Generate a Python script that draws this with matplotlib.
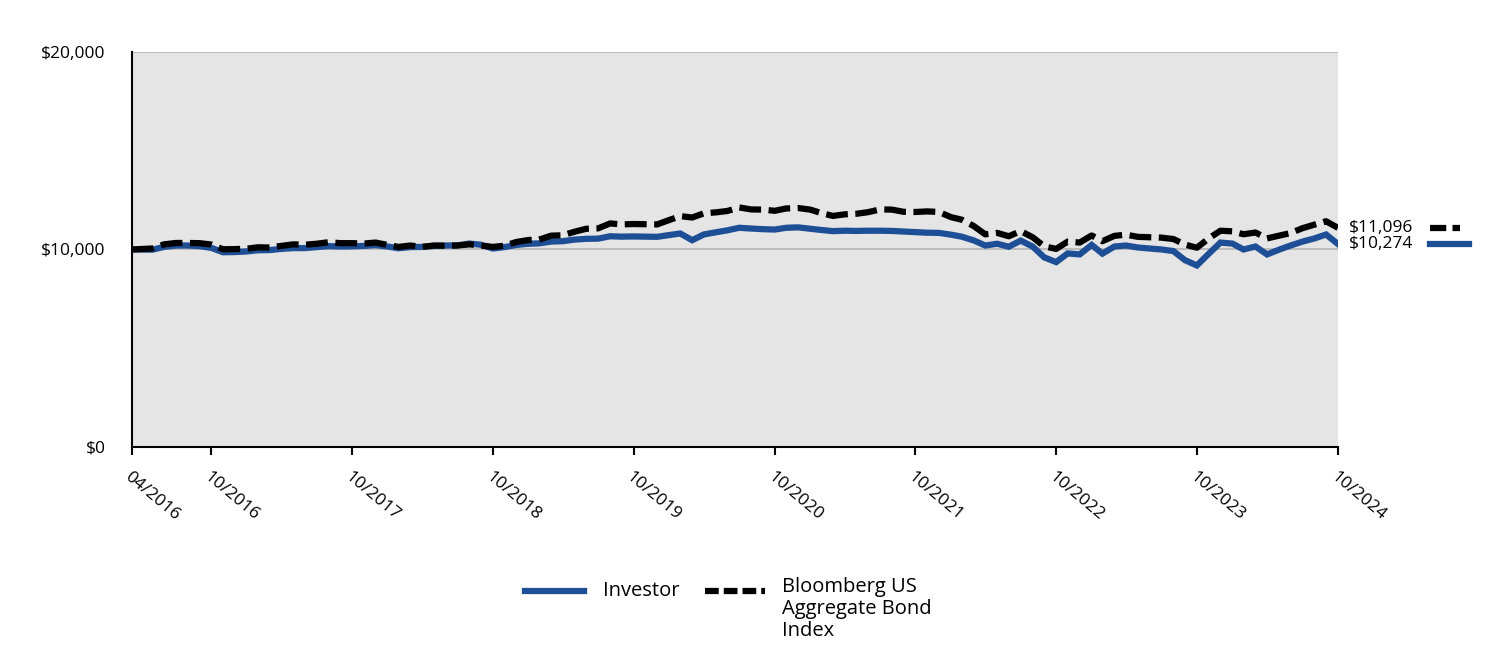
import pandas as pd
import matplotlib
matplotlib.use('Agg')
import matplotlib.pyplot as plt
from matplotlib.lines import Line2D
from matplotlib.ticker import FuncFormatter

plt.rcParams['font.family'] = ['Open Sans', 'DejaVu Sans']

# first point is the start date, then month ends
dates = pd.to_datetime(['2016-04-08']).append(pd.date_range('2016-05-31', '2024-10-31', freq='ME'))

investor = [10000,
            9990, 10130, 10200, 10200, 10170, 10080, 9860, 9870,
            9900, 9960, 9970, 10030, 10070, 10070, 10120, 10170, 10150, 10160, 10180, 10220,
            10150, 10060, 10120, 10130, 10180, 10200, 10210, 10300, 10240, 10050, 10120, 10230,
            10290, 10310, 10400, 10420, 10500, 10540, 10550, 10670, 10650, 10660, 10650, 10640,
            10730, 10810, 10470, 10760, 10870, 10970, 11100, 11060, 11030, 11010, 11100, 11120,
            11050, 10990, 10930, 10950, 10940, 10950, 10950, 10940, 10910, 10880, 10850, 10840,
            10750, 10650, 10460, 10200, 10290, 10140, 10450, 10150, 9600, 9360, 9800, 9750,
            10230, 9790, 10150, 10200, 10100, 10050, 10000, 9920, 9460, 9190, 9770, 10350,
            10300, 10000, 10150, 9750, 9990, 10200, 10400, 10560, 10760, 10274]

index = [10000,
         10050, 10260, 10330, 10330, 10320, 10250, 10010, 10020,
         10040, 10110, 10100, 10180, 10260, 10240, 10290, 10370, 10320, 10320, 10300, 10350,
         10230, 10130, 10200, 10130, 10200, 10190, 10200, 10260, 10200, 10130, 10190, 10380,
         10480, 10500, 10700, 10720, 10900, 11050, 11070, 11320, 11270, 11290, 11280, 11270,
         11490, 11690, 11620, 11830, 11880, 11950, 12130, 12030, 12020, 11960, 12080, 12100,
         12020, 11850, 11700, 11780, 11810, 11890, 12030, 12020, 11910, 11900, 11930, 11900,
         11640, 11510, 11190, 10770, 10840, 10670, 10930, 10620, 10160, 10030, 10400, 10350,
         10710, 10420, 10690, 10750, 10640, 10620, 10600, 10530, 10250, 10090, 10550, 10950,
         10920, 10770, 10860, 10560, 10700, 10830, 11080, 11260, 11430, 11096]

series_names = ['Investor', 'Bloomberg US\nAggregate Bond\nIndex']
blue = '#1e4f96'
dash = (3.5, 1.2)

fig = plt.figure(figsize=(15, 6.6), dpi=100)
ax = fig.add_axes([0.088, 0.323, 0.804, 0.598])
ax.set_facecolor('#e5e5e5')

ax.plot(dates, investor, color=blue, lw=4.5, solid_joinstyle='miter', zorder=3)
ax.plot(dates, index, color='black', lw=4.5, dashes=dash, zorder=4)

ax.set_xlim(dates[0], dates[-1])
ax.set_ylim(0, 20000)
ax.set_yticks([0, 10000, 20000])
ax.yaxis.set_major_formatter(FuncFormatter(lambda v, p: '${:,.0f}'.format(v)))
ax.yaxis.grid(True, color='#b4b4b4', lw=1.2)
ax.set_axisbelow(True)
ax.tick_params(axis='y', length=0, pad=19, labelsize=12.5)

oct_dates = [d for d in dates if d.month == 10]
ticks = [dates[0]] + oct_dates
ax.set_xticks(ticks)
ax.set_xticklabels([d.strftime('%m/%Y') for d in ticks], rotation=-40, ha='left',
                   va='top', rotation_mode='anchor', fontsize=12.5)
ax.tick_params(axis='x', length=6, width=1.5, pad=10)

for s in ['top', 'right']:
    ax.spines[s].set_visible(False)
ax.spines['left'].set_linewidth(1.5)
ax.spines['bottom'].set_linewidth(1.5)

# end value labels
ax.annotate('${:,.0f}'.format(index[-1]), (dates[-1], index[-1]), xytext=(8, 0),
            textcoords='offset points', va='center', fontsize=12.5, annotation_clip=False)
ax.annotate('${:,.0f}'.format(investor[-1]), (dates[-1], investor[-1]), xytext=(8, 0),
            textcoords='offset points', va='center', fontsize=12.5, annotation_clip=False)

# small line keys at right
fig.add_artist(Line2D([0.953, 0.973], [1 - 228 / 660] * 2, color='black', lw=4.5, dashes=(2.6, 1.0)))
fig.add_artist(Line2D([0.953, 0.979], [1 - 244 / 660] * 2, color=blue, lw=4.5))

# bottom legend
ly = 1 - 591 / 660
fig.add_artist(Line2D([0.350, 0.389], [ly, ly], color=blue, lw=4.5))
fig.text(0.402, ly, series_names[0], va='center', fontsize=14.5)
fig.add_artist(Line2D([0.470, 0.510], [ly, ly], color='black', lw=4.5, dashes=(2.2, 0.8)))
fig.text(0.521, 1 - 577 / 660, series_names[1], va='top', fontsize=14.5, linespacing=1.15)

fig.savefig('out.png', dpi=100)
